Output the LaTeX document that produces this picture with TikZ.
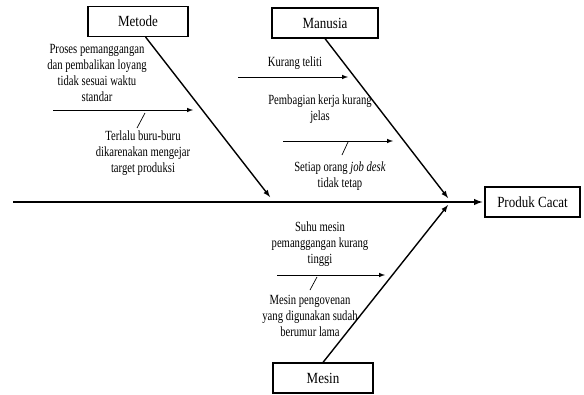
\documentclass[tikz,border=0pt]{standalone}
\usepackage{fontspec}
\setmainfont{Liberation Serif}[FakeStretch=0.84]
\newfontfamily\causefont{Liberation Serif}[FakeStretch=0.76]
\usepackage{tikz}
\tikzset{>=latex}
\tikzset{
	katbox/.style={draw, line width=1.2pt, minimum width=#1, minimum height=30pt, inner sep=0pt, font=\fontsize{15.5}{16}\selectfont},
	katbox/.default=100pt,
	cause/.style={align=center, inner sep=0pt, font=\causefont\fontsize{14}{16}\selectfont},
	tulang/.style={line width=1.4pt, ->},
	duri/.style={line width=1pt, ->}
}

\begin{document}
\begin{tikzpicture}[x=1pt, y=-1pt]
    \useasboundingbox (0, 0) rectangle (584, 394);
    \node[katbox](metode) at (138, 21.5){Metode};
    \node[katbox=106pt](manusia) at (325, 23){Manusia};
    \node[katbox](mesin) at (323, 378){Mesin};
    \node[katbox=95pt](akibat) at (532.5, 202){Produk Cacat};
    \coordinate (ekor) at (13, 202);
    \coordinate (m1) at (270, 197);
    \coordinate (m2) at (448, 198);
    \coordinate (m3) at (448, 205);
    \draw[line width=1.8pt, ->, shorten >=2pt](ekor)--(akibat.west);
    \draw[tulang](metode.-64)--(m1);
    \draw[tulang](manusia.south)--(m2);
    \draw[tulang](mesin.north)--(m3);
    % metode
    \node[cause](p1) at (97, 72.5){Proses pemanggangan\\dan pembalikan loyang\\tidak sesuai waktu\\standar};
    \node[cause](p2) at (143, 153){Terlalu buru-buru\\dikarenakan mengejar\\target produksi};
    \draw[duri](53, 110)coordinate(a1)--(193, 110)coordinate(b1);
    \draw[line width=.7pt](145, 113)--(137, 128);
    % manusia
    \node[cause](p3) at (295, 63){Kurang teliti};
    \node[cause](p4) at (320, 109){Pembagian kerja kurang\\jelas};
    \node[cause](p5) at (340, 176){Setiap orang \textit{job desk}\\tidak tetap};
    \draw[duri](238, 77)coordinate(a2)--(348, 77)coordinate(b2);
    \draw[duri](283, 141)coordinate(a3)--(393, 141)coordinate(b3);
    \draw[line width=.7pt](348, 142)--(342, 155);
    % mesin
    \node[cause](p6) at (320, 244){Suhu mesin\\pemanggangan kurang\\tinggi};
    \node[cause](p7) at (310, 316){Mesin pengovenan\\yang digunakan sudah\\berumur lama};
    \draw[duri](277, 275)coordinate(a4)--(385, 275)coordinate(b4);
    \draw[line width=.7pt](317, 277)--(310, 290);
\end{tikzpicture}
\end{document}
